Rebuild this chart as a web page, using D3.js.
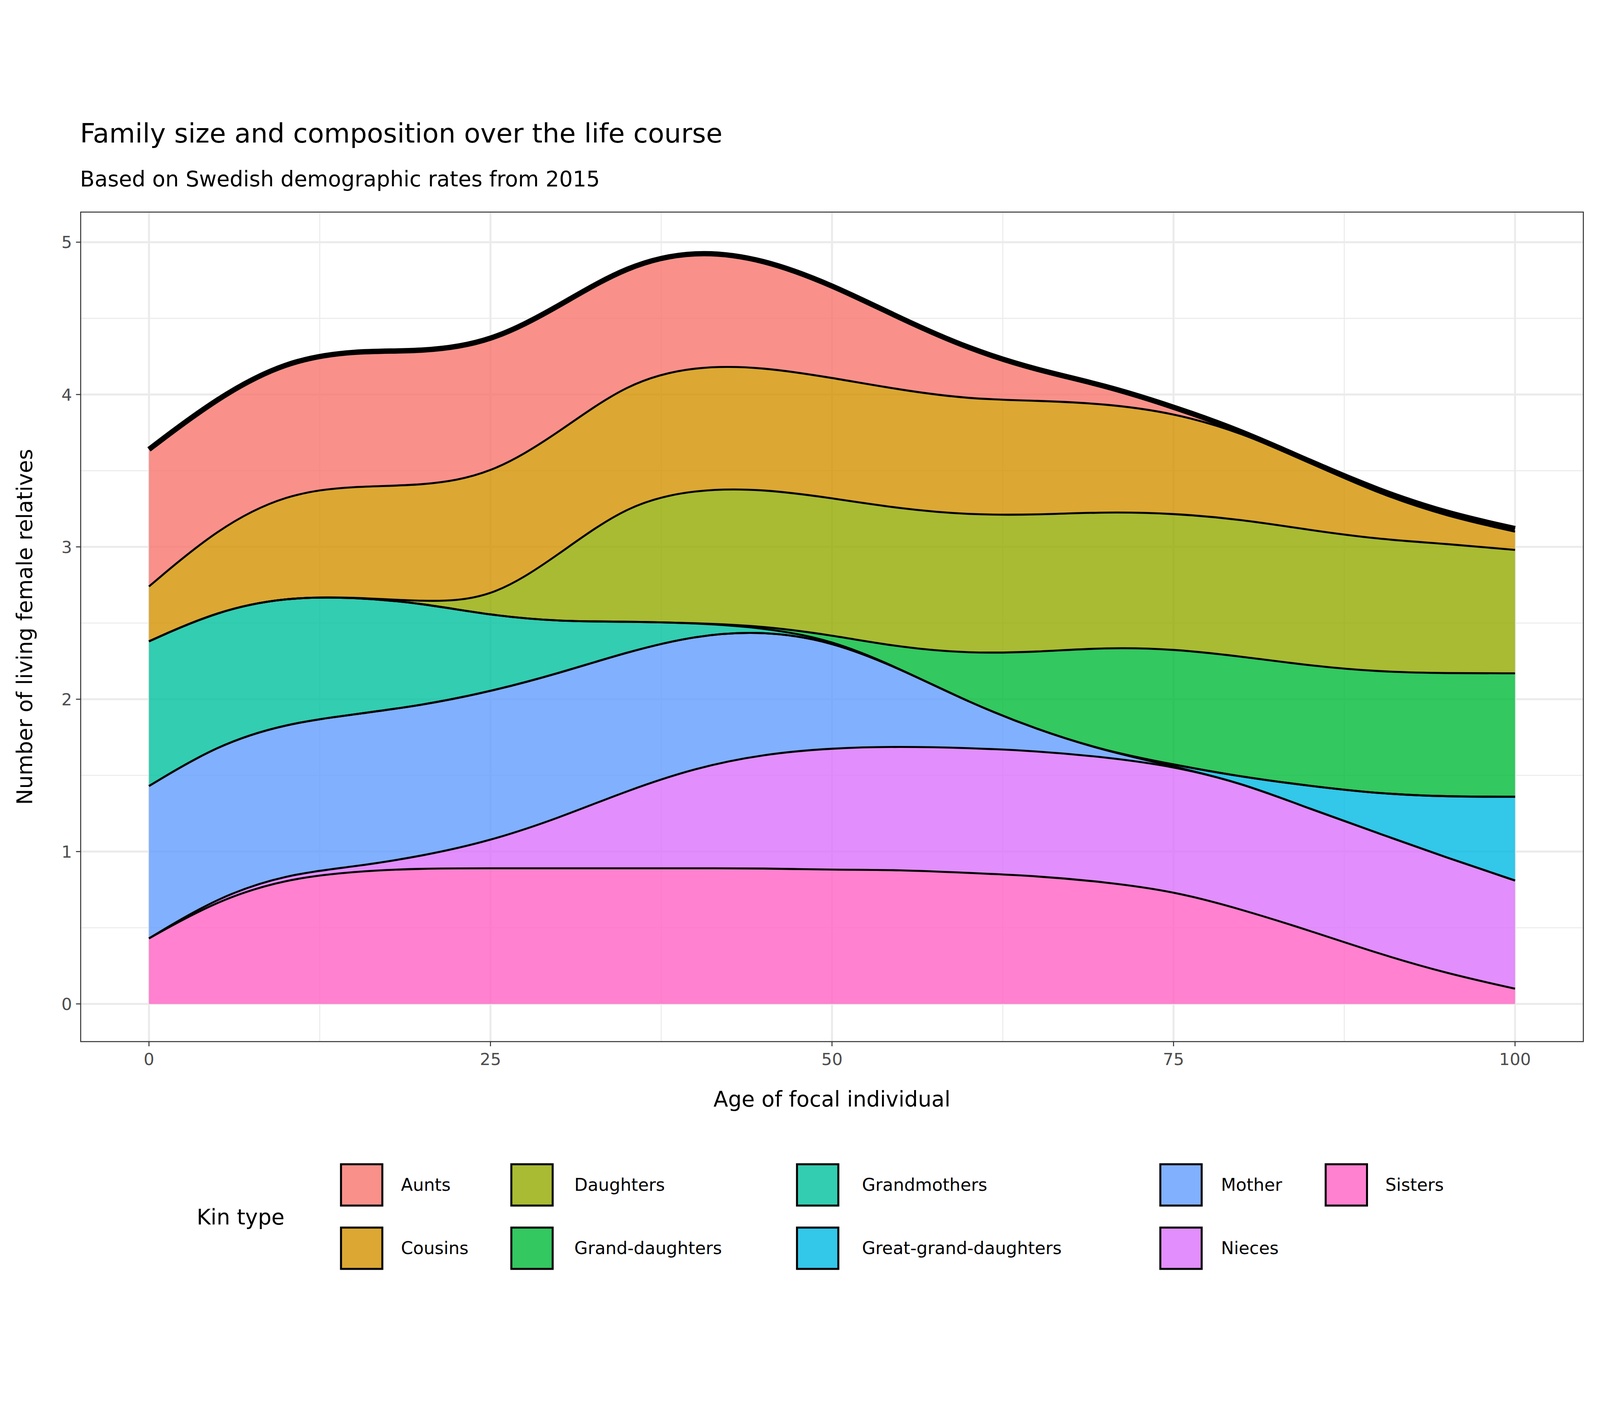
<!DOCTYPE html>
<html><head><meta charset="utf-8">
<script src="https://cdn.jsdelivr.net/npm/d3@7"></script>
<style>html,body{margin:0;padding:0;overflow:hidden;background:#fff}svg{display:block;width:100vw;height:100vh}</style></head>
<body><svg id="c" viewBox="0 0 4800 3600" preserveAspectRatio="xMidYMid meet"></svg>
<script>
const ages=[0,5,10,15,20,25,30,35,40,45,50,55,60,65,70,75,80,85,90,95,100];
const sisters=[0.43,0.68,0.82,0.87,0.89,0.89,0.89,0.89,0.89,0.89,0.88,0.88,0.86,0.84,0.80,0.74,0.62,0.48,0.33,0.20,0.10];
const nieces=[0,0.02,0.03,0.03,0.08,0.18,0.33,0.51,0.66,0.75,0.80,0.81,0.82,0.82,0.82,0.82,0.83,0.80,0.79,0.76,0.71];
const greatGrandDaughters=[0,0,0,0,0,0,0,0,0,0,0,0,0,0,0,0.01,0.04,0.15,0.26,0.40,0.55];
const mother=[1.00,1.00,0.99,1.00,0.99,0.98,0.95,0.91,0.87,0.81,0.70,0.51,0.30,0.14,0.04,0,0,0,0,0,0];
const grandDaughters=[0,0,0,0,0,0,0,0,0,0.01,0.03,0.14,0.32,0.51,0.68,0.76,0.79,0.79,0.80,0.81,0.81];
const grandmothers=[0.95,0.88,0.83,0.77,0.67,0.50,0.34,0.20,0.08,0.02,0.01,0,0,0,0,0,0,0,0,0,0];
const daughters=[0,0,0,0,0.01,0.10,0.44,0.77,0.88,0.90,0.90,0.91,0.91,0.90,0.89,0.89,0.90,0.89,0.87,0.85,0.81];
const cousins=[0.36,0.54,0.68,0.73,0.76,0.82,0.80,0.80,0.81,0.80,0.79,0.78,0.76,0.75,0.71,0.66,0.57,0.44,0.30,0.18,0.12];
const aunts=[0.90,0.86,0.87,0.89,0.88,0.87,0.83,0.77,0.76,0.71,0.61,0.47,0.33,0.20,0.12,0.04,0.01,0.01,0.02,0.02,0.02];
const kinNames=["Aunts","Cousins","Daughters","Grand-daughters","Grandmothers","Great-grand-daughters","Mother","Nieces","Sisters"];
const kinColors=["#F8766D","#D39200","#93AA00","#00BA38","#00C19F","#00B9E3","#619CFF","#DB72FB","#FF61C3"];
const series={Aunts:aunts,Cousins:cousins,Daughters:daughters,"Grand-daughters":grandDaughters,Grandmothers:grandmothers,"Great-grand-daughters":greatGrandDaughters,Mother:mother,Nieces:nieces,Sisters:sisters};
const xTicks=[0,25,50,75,100], yTicks=[0,1,2,3,4,5];

const svg=d3.select("#c");
const L=242,R=4750,T=327,B=2816;
const x=d3.scaleLinear().domain([-5,105]).range([L,R]);
const y=d3.scaleLinear().domain([-0.2475,5.1975]).range([B,T]);
const F="DejaVu Sans";
svg.append("rect").attr("x",L).attr("y",T).attr("width",R-L).attr("height",B-T).attr("fill","#fff");
const g=svg.append("g");
[12.5,37.5,62.5,87.5].forEach(v=>g.append("line").attr("x1",x(v)).attr("x2",x(v)).attr("y1",T).attr("y2",B).attr("stroke","#ebebeb").attr("stroke-width",3));
[0.5,1.5,2.5,3.5,4.5].forEach(v=>g.append("line").attr("y1",y(v)).attr("y2",y(v)).attr("x1",L).attr("x2",R).attr("stroke","#ebebeb").attr("stroke-width",3));
xTicks.forEach(v=>g.append("line").attr("x1",x(v)).attr("x2",x(v)).attr("y1",T).attr("y2",B).attr("stroke","#ebebeb").attr("stroke-width",6));
yTicks.forEach(v=>g.append("line").attr("y1",y(v)).attr("y2",y(v)).attr("x1",L).attr("x2",R).attr("stroke","#ebebeb").attr("stroke-width",6));

const rows=ages.map((a,i)=>{const o={age:a};kinNames.forEach(k=>o[k]=series[k][i]);return o;});
const order=kinNames.slice().reverse();
const stack=d3.stack().keys(order)(rows);
const area=d3.area().x(d=>x(d.data.age)).y0(d=>y(d[0])).y1(d=>y(d[1])).curve(d3.curveBasis);
const line=d3.line().x(d=>x(d.data.age)).y(d=>y(d[1])).curve(d3.curveBasis);
stack.forEach(s=>{
  const c=kinColors[kinNames.indexOf(s.key)];
  svg.append("path").attr("d",area(s)).attr("fill",c).attr("fill-opacity",0.8);
});
stack.forEach(s=>svg.append("path").attr("d",line(s)).attr("fill","none").attr("stroke","#000").attr("stroke-width",6));
svg.append("path").attr("d",line(stack[stack.length-1])).attr("fill","none").attr("stroke","#000").attr("stroke-width",16);
svg.append("rect").attr("x",L).attr("y",T).attr("width",R-L).attr("height",B-T).attr("fill","none").attr("stroke","#333").attr("stroke-width",3);

xTicks.forEach(v=>{
  svg.append("line").attr("x1",x(v)).attr("x2",x(v)).attr("y1",B).attr("y2",B+14).attr("stroke","#333").attr("stroke-width",3);
  svg.append("text").attr("x",x(v)).attr("y",B+70).attr("text-anchor","middle").attr("font-family",F).attr("font-size",50).attr("fill","#4d4d4d").text(v);
});
yTicks.forEach(v=>{
  svg.append("line").attr("x1",L-14).attr("x2",L).attr("y1",y(v)).attr("y2",y(v)).attr("stroke","#333").attr("stroke-width",3);
  svg.append("text").attr("x",L-26).attr("y",y(v)+18).attr("text-anchor","end").attr("font-family",F).attr("font-size",50).attr("fill","#4d4d4d").text(v);
});
svg.append("text").attr("x",(L+R)/2).attr("y",3010).attr("text-anchor","middle").attr("font-family",F).attr("font-size",64).text("Age of focal individual");
svg.append("text").attr("transform",`translate(96,${(T+B)/2}) rotate(-90)`).attr("text-anchor","middle").attr("font-family",F).attr("font-size",64).text("Number of living female relatives");
svg.append("text").attr("x",240).attr("y",118).attr("font-family",F).attr("font-size",80).text("Family size and composition over the life course");
svg.append("text").attr("x",240).attr("y",250).attr("font-family",F).attr("font-size",64).text("Based on Swedish demographic rates from 2015");

svg.append("text").attr("x",590).attr("y",3365).attr("font-family",F).attr("font-size",64).text("Kin type");
const colKey=[1019,1530,2387,3477,3973], colLab=[1203,1723,2586,3663,4156], rowY=[3246,3436];
kinNames.forEach((k,i)=>{
  const c=Math.floor(i/2), r=i%2;
  svg.append("rect").attr("x",colKey[c]).attr("y",rowY[r]-66).attr("width",132).attr("height",132).attr("fill","#fff");
  svg.append("rect").attr("x",colKey[c]+4).attr("y",rowY[r]-62).attr("width",124).attr("height",124).attr("fill",kinColors[i]).attr("fill-opacity",0.8).attr("stroke","#000").attr("stroke-width",6);
  svg.append("text").attr("x",colLab[c]).attr("y",rowY[r]+18).attr("font-family",F).attr("font-size",52).text(k);
});
</script></body></html>
